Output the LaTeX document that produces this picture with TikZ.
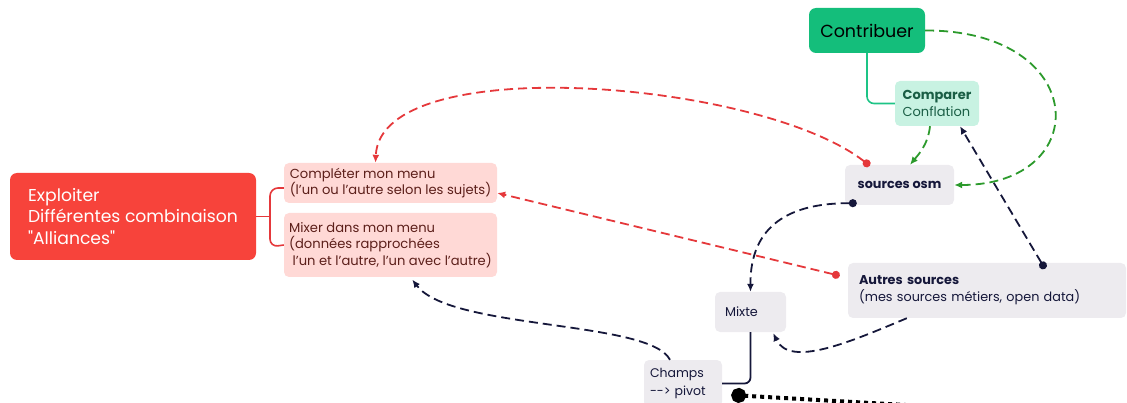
\documentclass[tikz,border=0pt]{standalone}
\usepackage{fontspec}
\setmainfont{Poppins}[Ligatures=TeXOff]
\usetikzlibrary{arrows.meta}
\definecolor{explfill}{HTML}{F7433B}
\definecolor{subfill}{HTML}{FFD9D6}
\definecolor{subtext}{HTML}{5C1F1A}
\definecolor{contribfill}{HTML}{14BE7B}
\definecolor{compfill}{HTML}{C8F2E2}
\definecolor{comptext}{HTML}{1A5E45}
\definecolor{grayfill}{HTML}{EDEBEF}
\definecolor{navy}{HTML}{15173A}
\definecolor{redline}{HTML}{E5383B}
\definecolor{greenline}{HTML}{2C9A2C}
\definecolor{mint}{HTML}{1DC486}
\begin{document}
\begin{tikzpicture}[x=1pt,y=-1pt,
  boxbase/.style={rounded corners=5pt, inner sep=0pt, align=left},
  subbox/.style={boxbase, fill=subfill, text=subtext, minimum width=213pt, font=\fontsize{13.1}{16.3}\selectfont},
  graybox/.style={boxbase, fill=grayfill, text=navy, font=\fontsize{12.8}{17}\selectfont},
  dashconn/.style={line width=1.8pt, dash pattern=on 9pt off 5pt},
  redconn/.style={dashconn, draw=redline, {Circle[length=8pt]}-{Latex[length=8pt,width=7pt]}},
  greenconn/.style={dashconn, draw=greenline, -{Latex[length=8pt,width=7pt]}},
  navyconn/.style={dashconn, draw=navy, {Circle[length=8pt]}-{Latex[length=8pt,width=7pt]}},
  navyconnb/.style={dashconn, draw=navy, -{Latex[length=8pt,width=7pt]}},
  brk/.style={draw=redline, line width=1.6pt, rounded corners=8pt},
]
\useasboundingbox (0,0) rectangle (1127,403);

% nodes
\node[boxbase, rounded corners=7pt, fill=explfill, text=white, minimum width=246pt, minimum height=87pt,
      font=\fontsize{17.2}{21.5}\selectfont] (expl) at (133,216.5)
  {Exploiter\\Différentes combinaison\\"Alliances"};
\node[subbox, minimum height=40pt] (compl) at (390.5,183)
  {Compléter mon menu\\(l’un ou l’autre selon les sujets)};
\node[subbox, minimum height=64pt] (mixer) at (390.5,245)
  {Mixer dans mon menu\\(données rapprochées\\\ l’un et l’autre, l’un avec l’autre)};
\node[boxbase, rounded corners=7pt, fill=contribfill, text=black, minimum width=116pt, minimum height=45pt,
      font=\fontsize{17.5}{22}\selectfont] (contrib) at (867,30.5) {Contribuer};
\node[boxbase, fill=compfill, text=comptext, minimum width=84pt, minimum height=45pt,
      font=\fontsize{13}{17}\selectfont] (comp) at (937,103.5) {\textbf{Comparer}\\Conflation};
\node[graybox, minimum width=109pt, minimum height=40pt] (osm) at (899.5,185) {\textbf{sources osm}};
\node[graybox, text width=256pt, inner xsep=11pt, minimum height=55pt] (autres) at (987,290.5)
  {\textbf{Autres sources}\\(mes sources métiers, open data)};
\node[graybox, text width=51pt, inner xsep=10pt, minimum height=40pt] (mixte) at (750.5,312) {Mixte};
\node[graybox, text width=66pt, inner xsep=6pt, minimum height=47pt, font=\fontsize{12.5}{18}\selectfont] (champs) at (683,383.5)
  {Champs\\--> pivot};
\coordinate (offr) at (1010,411);

% bracket
\draw[brk] ([yshift=-5pt]compl.west) -- (270,188) -- (270,247) -- (mixer.west);
\draw[draw=redline, line width=1.6pt] (expl.east) -- (270,216.5);
% contrib to comparer
\draw[draw=mint, line width=1.6pt, rounded corners=7pt] (contrib.south) |- (comp.west);

% connectors
\draw[redconn] ([xshift=25pt,yshift=-1pt]osm.north west) .. controls (760,80) and (380,50) .. ([xshift=-15pt]compl.north);
\draw[redconn] ([xshift=-8pt,yshift=-13pt]autres.north west) -- ([yshift=-10pt]compl.east);
\draw[greenconn] (contrib.east) .. controls (1090,30) and (1095,185) .. (osm.east);
\draw[greenconn] ([xshift=-7pt]comp.south) .. controls (928,145) and (918,155) .. ([xshift=10.5pt]osm.north);
\draw[navyconn] ([xshift=58pt,yshift=-6pt]autres.north) -- ([xshift=23pt]comp.south);
\draw[navyconn] ([xshift=12pt,yshift=2pt]osm.south west) .. controls (790,203) and (750,225) .. (mixte.north);
\draw[navyconnb] ([xshift=59pt]autres.south west) .. controls (850,342) and (790,368) .. ([xshift=-13pt,yshift=-1pt]mixte.south east);
\draw[navyconnb, shorten >=3pt] ([xshift=-13pt]champs.north) .. controls (650,320) and (450,330) .. ([xshift=20pt]mixer.south);
\draw[draw=navy, line width=1.8pt, rounded corners=6pt] (mixte.south) |- (champs.east);
\draw[draw=black, line width=4pt, dash pattern=on 4pt off 4pt, {Circle[length=15pt]}-] ([xshift=9pt,yshift=-11.5pt]champs.east) -- (offr);
\end{tikzpicture}
\end{document}
